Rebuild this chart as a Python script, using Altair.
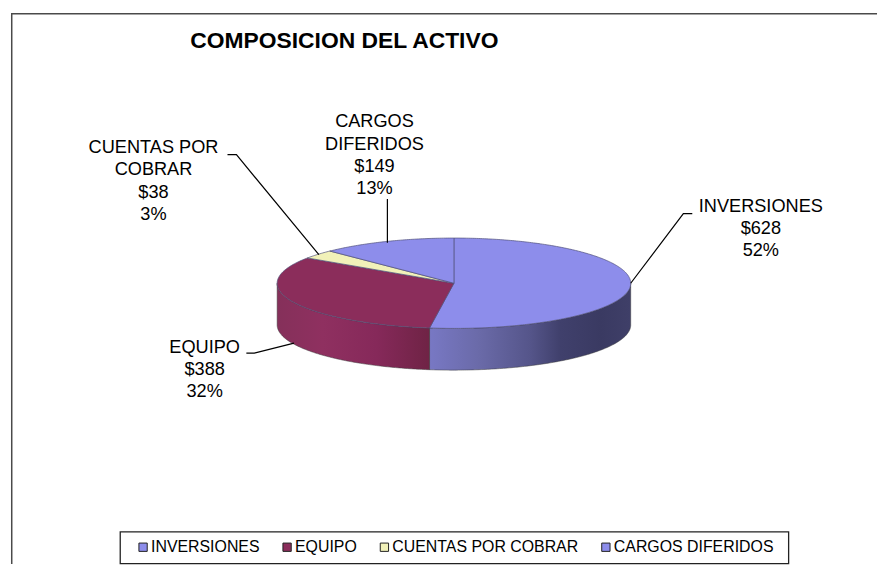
import math
import altair as alt
import pandas as pd

# ---- values
CATS = ["INVERSIONES", "EQUIPO", "CUENTAS POR COBRAR", "CARGOS DIFERIDOS"]
VALUES = [628, 388, 38, 149]
PERCENTS = [52, 32, 3, 13]
LABEL_TEXT = ["INVERSIONES", "EQUIPO", "CUENTAS POR\nCOBRAR", "CARGOS\nDIFERIDOS"]
TOP_COLORS = ["#8d8deb", "#8b2d5b", "#f1f1b9", "#8d8deb"]
CHART_TITLE = "COMPOSICION DEL ACTIVO"

# ---- layout (page pixels)
CX, CY, RX, RY, DEPTH = 454.0, 280.2, 178.0, 45.5, 42.0
ORIGIN = 8
RIGHT, BOTTOM = 880, 563
LABEL_POS = [(763, 203), (203, 345), (151.5, 144), (374, 118)]
LEADERS = [
    [(685, 210.2), (694, 210.2)],
    [(245, 350.5), (253, 350.5), (293, 340.5)],
    [(226, 150.8), (235, 150.8), (318, 251.5)],
    [(387, 195.5), (387, 239.5)],
]
LEGEND_BOX = (118, 530.5, 791, 562.5)

total = sum(VALUES)


def ell(deg, dy=0.0):
    a = math.radians(deg)
    return CX + RX * math.sin(a), CY - RY * math.cos(a) + dy


def arc_pts(a0, a1, dy=0.0):
    n = max(2, int(abs(a1 - a0) * 1.5))
    return [ell(a0 + (a1 - a0) * i / n, dy) for i in range(n + 1)]


angles = [0.0]
for v in VALUES:
    angles.append(angles[-1] + 360.0 * v / total)

X = alt.X("x:Q", scale=alt.Scale(domain=[ORIGIN, RIGHT], nice=False, zero=False), axis=None)
Y = alt.Y("y:Q", scale=alt.Scale(domain=[BOTTOM, ORIGIN], nice=False, zero=False), axis=None)


def frame(pts, **extra):
    return pd.DataFrame([dict(x=p[0], y=p[1], o=i, **extra) for i, p in enumerate(pts)])


def side(a0, a1, stops):
    pts = arc_pts(a0, a1) + arc_pts(a1, a0, DEPTH)
    grad = alt.LinearGradient(
        gradient="linear", x1=0, x2=1, y1=0, y2=0,
        stops=[alt.GradientStop(offset=o, color=c) for o, c in stops],
    )
    return alt.Chart(frame(pts)).mark_line(
        interpolate="linear-closed", fill=grad, stroke="#3a3a3a", strokeWidth=0.5
    ).encode(x=X, y=Y, order="o:Q")


border = alt.Chart(frame([(8.75, BOTTOM), (8.75, 8.75), (RIGHT, 8.75)])).mark_line(
    color="#4a4a4a", strokeWidth=1.5
).encode(x=X, y=Y, order="o:Q")

side_a = side(90, angles[1], [(0, "#7878c4"), (0.25, "#6a6aa8"), (0.5, "#55558a"), (0.65, "#40406c"), (0.85, "#3a3a62"), (1, "#3f3f68")])
side_b = side(angles[1], 270, [(0, "#85305a"), (0.3, "#8f3060"), (0.65, "#86295a"), (1, "#6f2345")])

top_rows = []
for i, c in enumerate(CATS):
    pts = [(CX, CY)] + arc_pts(angles[i], angles[i + 1])
    top_rows.append(frame(pts, cat=c))
tops = alt.Chart(pd.concat(top_rows)).mark_line(
    interpolate="linear-closed", stroke="#50507a", strokeWidth=0.7
).encode(
    x=X, y=Y, order="o:Q",
    fill=alt.Fill(
        "cat:N",
        scale=alt.Scale(domain=CATS, range=TOP_COLORS),
        sort=CATS,
        legend=alt.Legend(
            title=None, orient="none", legendX=125, legendY=530,
            direction="horizontal", columns=4, columnPadding=19, gridAlign="none",
            symbolType="square", symbolSize=70, symbolStrokeColor="#222222", symbolStrokeWidth=1,
            labelFont="Liberation Sans", labelFontSize=16, labelColor="#000000", labelOffset=0,
            labelLimit=400, padding=0,
        ),
    ),
)

box = alt.Chart(pd.DataFrame({"x": [LEGEND_BOX[0]], "x2": [LEGEND_BOX[2]], "y": [LEGEND_BOX[1]], "y2": [LEGEND_BOX[3]]})).mark_rect(
    fillOpacity=0, stroke="#222222", strokeWidth=1.3
).encode(x=X, x2="x2:Q", y=Y, y2="y2:Q")

leader_rows = []
for i, line in enumerate(LEADERS):
    pts = list(line)
    if i == 0:
        pts = [ell(90)] + pts
    leader_rows.append(frame(pts, cat=CATS[i]))
leaders = alt.Chart(pd.concat(leader_rows)).mark_line(color="#000000", strokeWidth=1.2).encode(
    x=X, y=Y, order="o:Q", detail="cat:N"
)

lab = pd.DataFrame({
    "x": [p[0] for p in LABEL_POS],
    "y": [p[1] for p in LABEL_POS],
    "t": [f"{n}\n${v}\n{p}%" for n, v, p in zip(LABEL_TEXT, VALUES, PERCENTS)],
})
labels = alt.Chart(lab).mark_text(
    font="Liberation Sans", fontSize=18.3, lineBreak="\n", lineHeight=22.6, align="center", baseline="middle", color="#000000"
).encode(x=X, y=Y, text="t:N")

title = alt.Chart(pd.DataFrame({"x": [188.5], "y": [36], "t": [CHART_TITLE]})).mark_text(
    font="Liberation Sans", fontSize=23, fontWeight="bold", align="left", baseline="middle", color="#000000"
).encode(x=X, y=Y, text="t:N")

chart = (
    alt.layer(border, side_a, side_b, tops, box, leaders, labels, title)
    .properties(width=RIGHT - ORIGIN, height=BOTTOM - ORIGIN, padding=0, background="#ffffff")
    .configure_view(stroke=None)
)
chart.save("out.html", embed_options={"renderer": "svg", "actions": False})
